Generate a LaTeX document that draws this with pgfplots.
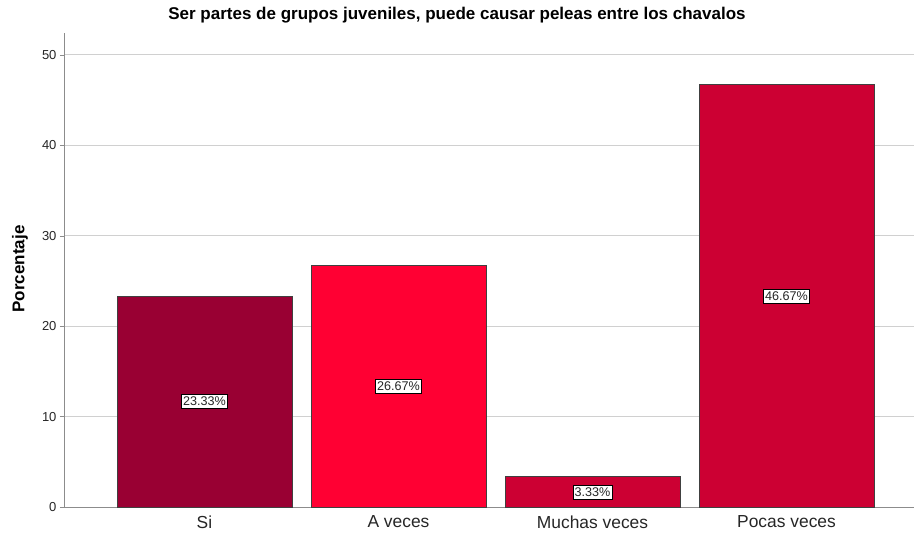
\documentclass[border=0pt]{standalone}
\usepackage{pgfplots}
\pgfplotsset{compat=1.18}
\usepackage{fontspec}
\setmainfont{Liberation Sans}
\definecolor{c1}{HTML}{990033}
\definecolor{c2}{HTML}{FF0033}
\definecolor{c3}{HTML}{CC0033}
\definecolor{gridc}{HTML}{D0D0D0}
\definecolor{axc}{HTML}{8C8C8C}
\begin{document}
\begin{tikzpicture}[x=1pt,y=1pt]
\useasboundingbox (-64,-35) rectangle (850,507);
\begin{axis}[
  at={(0,0)}, anchor=south west,
  scale only axis, width=850pt, height=474pt,
  xmin=-0.724, xmax=3.657, ymin=0, ymax=52.4,
  axis x line=bottom, axis y line=left,
  axis line style={-, draw=axc, line width=0.8pt},
  xtick={0,1,2,3}, xticklabels={Si,A veces,Muchas veces,Pocas veces},
  xtick style={draw=none},
  ytick={0,10,20,30,40,50},
  ytick style={draw=axc},
  tick align=outside, major tick length=4pt,
  ymajorgrids, grid style={draw=gridc, line width=0.8pt},
  xticklabel style={font=\fontsize{17.4}{19}\selectfont, text=black!85, yshift=-1pt},
  yticklabel style={font=\fontsize{13}{14}\selectfont, text=black!85},
  /pgf/number format/assume math mode=true,
  clip=false,
]
\addplot[ybar, bar width=0.902, bar shift=0pt, fill=c1, draw=black!75, line width=0.8pt] coordinates {(0,23.33)};
\addplot[ybar, bar width=0.902, bar shift=0pt, fill=c2, draw=black!75, line width=0.8pt] coordinates {(1,26.67)};
\addplot[ybar, bar width=0.902, bar shift=0pt, fill=c3, draw=black!75, line width=0.8pt] coordinates {(2,3.33)};
\addplot[ybar, bar width=0.902, bar shift=0pt, fill=c3, draw=black!75, line width=0.8pt] coordinates {(3,46.67)};
\addplot[draw=none, mark=none, point meta=explicit symbolic,
  nodes near coords, nodes near coords align=center,
  every node near coord/.append style={fill=white, draw=black, line width=0.6pt, inner xsep=1.5pt, inner ysep=2.5pt, font=\fontsize{12.6}{13}\selectfont, text=black!85}]
  coordinates {(0,11.665)[23.33\%] (1,13.335)[26.67\%] (2,1.665)[3.33\%] (3,23.335)[46.67\%]};
\end{axis}
\node[font=\bfseries\fontsize{17}{19}\selectfont] at (393,492) {Ser partes de grupos juveniles, puede causar peleas entre los chavalos};
\node[rotate=90, font=\bfseries\fontsize{17}{19}\selectfont] at (-44,238) {Porcentaje};
\end{tikzpicture}
\end{document}
